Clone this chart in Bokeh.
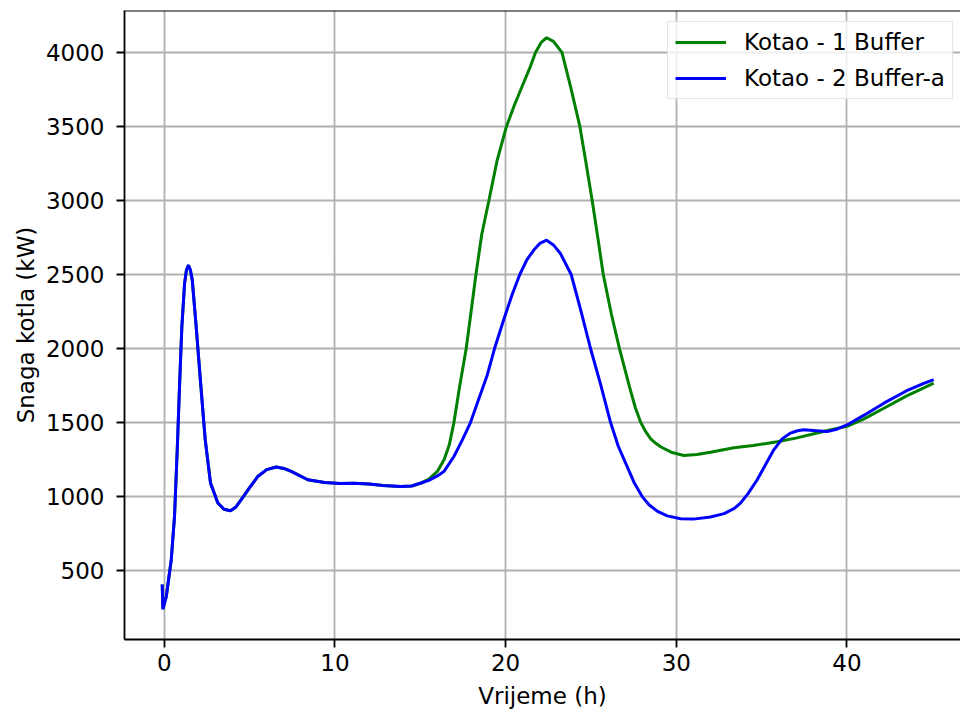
from bokeh.plotting import figure
from bokeh.models import Range1d, Legend, LegendItem, Span, FixedTicker
from bokeh.embed import file_html
from bokeh.resources import INLINE

# ---- data ----
x_ticks = [0, 10, 20, 30, 40]
y_ticks = [500, 1000, 1500, 2000, 2500, 3000, 3500, 4000]

t_boiler1 = [-0.12, -0.08, 0.12, 0.41, 0.60, 0.76, 0.90, 1.03, 1.19, 1.30, 1.42, 1.53, 1.64,
             1.87, 2.13, 2.40, 2.71, 3.14, 3.50, 3.88, 4.20, 4.51, 5.00, 5.48, 6.00, 6.56,
             7.00, 7.44, 8.41, 9.39, 10.3, 11.1, 12.0, 12.8, 13.84, 14.5, 15.0, 15.5,
             16.0, 16.4, 16.7, 16.97, 17.3, 17.69, 18.0, 18.26, 18.6, 19.02, 19.5, 20.05,
             20.5, 21.0, 21.4, 21.75, 22.1, 22.4, 22.8, 23.3, 23.8, 24.35, 24.7, 25.07,
             25.4, 25.72, 26.2, 26.67, 27.25, 27.6, 27.9, 28.2, 28.5, 28.8, 29.1, 29.7, 30.44, 31.2,
             32.0, 33.37, 34.5, 35.91, 37.0, 38.25, 39.2, 40.0, 41.0, 42.16, 43.5, 44.5, 45.08]
p_boiler1 = [406, 240, 327, 574, 866, 1316, 1766, 2147, 2440, 2530, 2563, 2530, 2462,
             2147, 1766, 1383, 1091, 957, 915, 905, 930, 979, 1060, 1136, 1182, 1200,
             1190, 1170, 1114, 1095, 1088, 1090, 1085, 1075, 1068, 1072, 1090, 1118,
             1170, 1250, 1350, 1500, 1740, 2000, 2270, 2500, 2770, 3000, 3270, 3500,
             3640, 3780, 3890, 4000, 4070, 4099, 4075, 4000, 3770, 3500, 3260, 3000,
             2750, 2500, 2230, 2000, 1745, 1600, 1505, 1440, 1390, 1360, 1335, 1300, 1278, 1285,
             1300, 1330, 1345, 1370, 1395, 1430, 1455, 1475, 1525, 1597, 1680, 1735, 1766]

t_boiler2 = [-0.12, -0.08, 0.12, 0.41, 0.60, 0.76, 0.90, 1.03, 1.19, 1.30, 1.42, 1.53, 1.64,
             1.87, 2.13, 2.40, 2.71, 3.14, 3.50, 3.88, 4.20, 4.51, 5.00, 5.48, 6.00, 6.56,
             7.00, 7.44, 8.41, 9.39, 10.3, 11.1, 12.0, 12.8, 13.84, 14.5, 15.0, 15.5,
             16.0, 16.38, 16.97, 17.45, 17.94, 18.4, 18.92, 19.35, 19.9, 20.4, 20.83, 21.25,
             21.65, 22.0, 22.4, 22.8, 23.22, 23.84, 24.4, 24.97, 25.56, 26.15, 26.6,
             27.12, 27.55, 28.0, 28.4, 28.9, 29.47, 30.25, 31.0, 32.0, 32.8, 33.4, 33.76, 34.2,
             34.74, 35.2, 35.71, 36.2, 36.69, 37.1, 37.47, 38.2, 38.84, 39.4, 40.0, 41.0,
             42.16, 43.5, 44.5, 45.08]
p_boiler2 = [406, 240, 327, 574, 866, 1316, 1766, 2147, 2440, 2530, 2563, 2530, 2462,
             2147, 1766, 1383, 1091, 957, 915, 905, 930, 979, 1060, 1136, 1182, 1200,
             1190, 1170, 1114, 1095, 1088, 1090, 1085, 1075, 1068, 1072, 1090, 1110,
             1140, 1169, 1271, 1380, 1500, 1650, 1820, 2000, 2200, 2370, 2500, 2600,
             2665, 2710, 2732, 2700, 2640, 2500, 2260, 2002, 1760, 1500, 1340,
             1203, 1090, 1000, 945, 900, 870, 850, 848, 862, 885, 920, 956, 1020,
             1114, 1210, 1316, 1390, 1429, 1445, 1451, 1445, 1439, 1455, 1484, 1550,
             1631, 1715, 1765, 1790]

series_labels = ["Kotao - 1 Buffer", "Kotao - 2 Buffer-a"]
series_colors = ["#008000", "#0000ff"]

FONT = "DejaVu Sans"
FS = "23px"

p = figure(width=960, height=711, output_backend="svg", toolbar_location=None,
           x_range=Range1d(-2.33, 46.65), y_range=Range1d(35, 4283),
           min_border_left=124, min_border_right=0, min_border_top=10, min_border_bottom=0)
p.outline_line_color = None
p.background_fill_color = "white"
p.border_fill_color = "white"

g = p.line(t_boiler1, p_boiler1, line_color=series_colors[0], line_width=3)
b = p.line(t_boiler2, p_boiler2, line_color=series_colors[1], line_width=3)

for ax in (p.xaxis[0], p.yaxis[0]):
    ax.axis_line_color = "black"
    ax.axis_line_width = 1.8
    ax.major_tick_line_color = "black"
    ax.major_tick_line_width = 1.8
    ax.major_tick_out = 8
    ax.major_tick_in = 0
    ax.minor_tick_line_color = None
    ax.major_label_text_font = FONT
    ax.major_label_text_font_size = FS
    ax.major_label_text_color = "black"
    ax.axis_label_text_font = FONT
    ax.axis_label_text_font_size = FS
    ax.axis_label_text_font_style = "normal"
    ax.axis_label_text_color = "black"

p.xaxis.ticker = FixedTicker(ticks=x_ticks)
p.yaxis.ticker = FixedTicker(ticks=y_ticks)
p.xaxis.axis_label = "Vrijeme (h)"
p.yaxis.axis_label = "Snaga kotla (kW)"
p.xaxis.major_label_standoff = 6
p.xaxis.axis_label_standoff = 9
p.yaxis.major_label_standoff = 12
p.yaxis.axis_label_standoff = 4

p.grid.grid_line_color = "#b0b0b0"
p.grid.grid_line_width = 1.8

top_spine = Span(location=4283, dimension="width", line_color="black", line_width=1.8)
p.add_layout(top_spine)

legend = Legend(items=[LegendItem(label=series_labels[0], renderers=[g]),
                       LegendItem(label=series_labels[1], renderers=[b])],
                location=(543, 540))
legend.label_text_font = FONT
legend.label_text_font_size = FS
legend.label_text_color = "black"
legend.glyph_width = 51
legend.label_standoff = 18
legend.padding = 7
legend.spacing = 10
legend.border_line_color = "#cccccc"
legend.border_line_width = 1.8
legend.background_fill_color = "white"
legend.background_fill_alpha = 0.8
p.add_layout(legend)

open("out.html", "w").write(file_html(p, INLINE))
